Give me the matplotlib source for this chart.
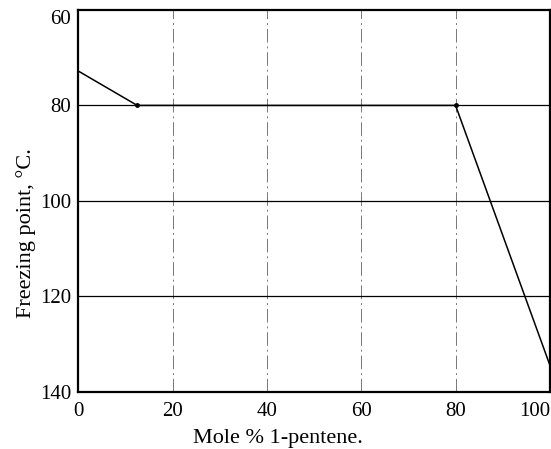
import numpy as np
import matplotlib.pyplot as plt

# freezing point curve, 1-pentene mixture
mole_pct = [0, 12.5, 80, 100]
freeze_pt = [72.8, 80, 80, 134.4]
x_ticks = [0, 20, 40, 60, 80, 100]
y_ticks = [60, 80, 100, 120, 140]

plt.rcParams['font.family'] = ['Liberation Serif', 'DejaVu Serif']

fig = plt.figure(figsize=(5.51, 4.49), dpi=100)
ax = fig.add_axes([0.142, 0.127, 0.856, 0.851])

# grid: dashed grey verticals, solid black horizontals
for xv in x_ticks[1:-1]:
    ax.axvline(xv, color='#777777', lw=0.7, ls=(0, (14, 4, 2, 4)), zorder=1)
for yv in y_ticks[1:-1]:
    ax.axhline(yv, color='black', lw=0.9, zorder=1)

ax.plot(mole_pct, freeze_pt, color='black', lw=1.1, zorder=3)
ax.plot(mole_pct[1:3], freeze_pt[1:3], 'o', color='black', ms=2.5, zorder=4)

ax.set_xlim(0, 100)
ax.set_ylim(140, 60)
ax.set_xticks(x_ticks)
ax.set_yticks(y_ticks)
ax.tick_params(length=0, labelsize=15)
ax.tick_params(axis='x', pad=7)
ax.tick_params(axis='y', pad=5)
ax.get_xticklabels()[-1].set_horizontalalignment('right')
ax.get_yticklabels()[0].set_verticalalignment('top')
for s in ax.spines.values():
    s.set_linewidth(1.6)

ax.set_xlabel('Mole % 1-pentene.', fontsize=16)
ax.set_ylabel('Freezing point, °C.', fontsize=16)
ax.xaxis.set_label_coords(0.424, -0.098)
ax.yaxis.set_label_coords(-0.09, 0.416)

fig.savefig('out.png', dpi=100)
